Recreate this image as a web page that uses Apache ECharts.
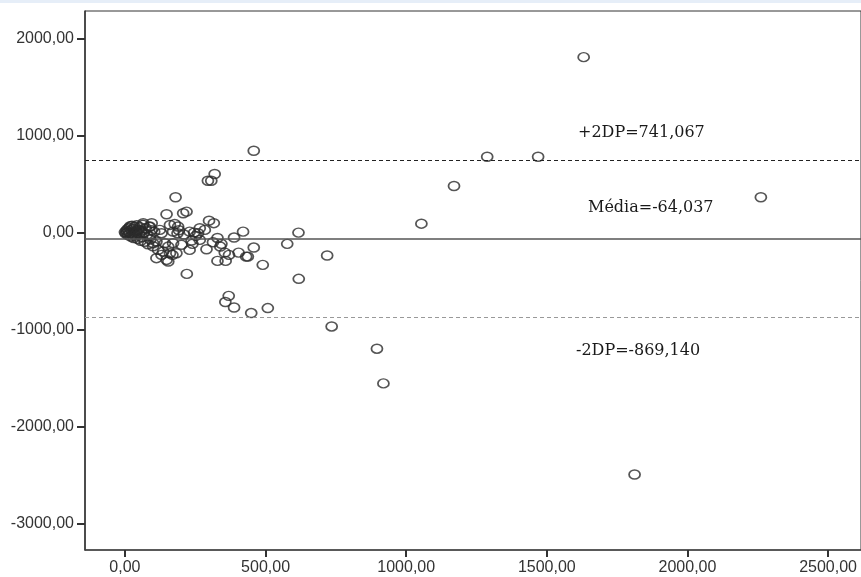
<!DOCTYPE html>
<html>
<head>
<meta charset="utf-8">
<script src="https://cdn.jsdelivr.net/npm/echarts@6/dist/echarts.min.js"></script>
<style>
  html, body { margin: 0; padding: 0; background: #fff; }
  #main { width: 861px; height: 577px; }
</style>
</head>
<body>
<div id="main"></div>
<script>
// mean of the two methods (x) and their difference (y)
var meanValues = [
  0, 3, 5, 7, 9, 11, 13, 15, 17, 19, 21, 23, 25, 27, 29, 31, 33, 35, 37, 40,
  42, 45, 47, 50, 53, 56, 58, 61, 64, 67, 70, 74, 78, 82, 86, 90, 95, 100, 104,
  65, 95, 148, 180, 207, 219, 160, 177, 189, 230, 266, 284, 260, 237, 266, 112,
  142, 171, 118, 136, 148, 154, 112, 130, 160, 183, 220, 89, 100, 41, 124, 299,
  316, 319, 295, 307, 420, 388, 329, 313, 343, 290, 355, 370, 404, 458, 437, 490,
  329, 358, 577, 617, 719, 618, 369, 357, 388, 449, 508, 458, 735, 896, 919,
  1054, 1170, 1288, 1469, 1631, 2261, 1812, 240, 230, 246, 201, 154, 169, 339,
  431, 252, 192, 210, 89, 130, 171, 187
];
var diffValues = [
  5, -10, 20, 0, 35, -25, 10, 50, -5, 65, -40, 25, 70, -15, 40, -55, 5, 60, -30, 15,
  75, -65, 30, -10, 55, -85, 20, -45, 80, 0, -95, 45, -20, -120, 60, -70, 25, -140, 10,
  97, 97, 189, 364, 199, 216, 79, 89, 62, 10, 45, 28, -6, -82, -75, -92,
  -109, -109, -178, -195, -281, -298, -263, -229, -212, -212, -425, -41, -109, -6, 28, 123,
  97, 603, 534, 534, 10, -51, -55, -99, -116, -171, -206, -229, -206, -154, -247, -332,
  -291, -291, -116, 0, -236, -476, -651, -715, -771, -828, -777, 843, -966, -1195, -1552,
  92, 480, 781, 781, 1806, 364, -2490, -116, -178, 0, -126, -144, -229, -144,
  -247, -34, 24, -20, 62, -6, 10, -6
];
var refValues = [741.067, -64.037, -869.140];
var refLabels = ['+2DP=741,067', 'Média=-64,037', '-2DP=-869,140'];
var xTicks = [0, 500, 1000, 1500, 2000, 2500];
var yTicks = [-3000, -2000, -1000, 0, 1000, 2000];

var points = meanValues.map(function (x, i) { return [x, diffValues[i]]; });

function fmt(v) { return v.toFixed(2).replace('.', ','); }

var myChart = echarts.init(document.getElementById('main'));

var labelFont = { fontFamily: 'DejaVu Serif', fontSize: 16, fill: '#1a1a1a' };

var option = {
  backgroundColor: '#fff',
  animation: false,
  grid: {
    left: 85, top: 11, right: -2, bottom: 27,
    show: true, borderColor: '#333', borderWidth: 1
  },
  xAxis: {
    type: 'value',
    min: -142, max: 2617,
    splitLine: { show: false },
    axisLine: { show: true, onZero: false, lineStyle: { color: '#444', width: 1.5 } },
    axisTick: { show: true, customValues: xTicks, length: 7, lineStyle: { color: '#333', width: 2 } },
    axisLabel: {
      customValues: xTicks, margin: 10, formatter: fmt,
      fontFamily: 'Liberation Sans', fontSize: 16, color: '#333'
    }
  },
  yAxis: {
    type: 'value',
    min: -3267, max: 2281,
    splitLine: { show: false },
    axisLine: { show: true, onZero: false, lineStyle: { color: '#333', width: 1.5 } },
    axisTick: { show: true, customValues: yTicks, length: 8, lineStyle: { color: '#333', width: 2 } },
    axisLabel: {
      customValues: yTicks, margin: 11, formatter: fmt,
      fontFamily: 'Liberation Sans', fontSize: 16, color: '#333'
    }
  },
  series: [
    {
      type: 'scatter',
      data: points,
      symbol: 'circle',
      symbolSize: [11, 9],
      itemStyle: { color: 'rgba(0,0,0,0)', borderColor: '#2a2a2a', borderWidth: 1.6 },
      markLine: {
        silent: true,
        symbol: 'none',
        label: { show: false },
        data: [
          { yAxis: refValues[0], lineStyle: { color: '#222', width: 1, type: [4, 3] } },
          { yAxis: refValues[1], lineStyle: { color: '#555', width: 1.5, type: 'solid' } },
          { yAxis: refValues[2], lineStyle: { color: '#999', width: 1, type: [4, 3] } }
        ]
      }
    }
  ],
  graphic: [
    { type: 'rect', left: 0, top: 0, shape: { width: 861, height: 3 }, style: { fill: '#e6eef8' } },
    { type: 'text', left: 578, top: 125, style: Object.assign({ text: refLabels[0] }, labelFont) },
    { type: 'text', left: 588, top: 200, style: Object.assign({ text: refLabels[1] }, labelFont) },
    { type: 'text', left: 576, top: 343, style: Object.assign({ text: refLabels[2] }, labelFont) }
  ]
};

option && myChart.setOption(option);
</script>
</body>
</html>
